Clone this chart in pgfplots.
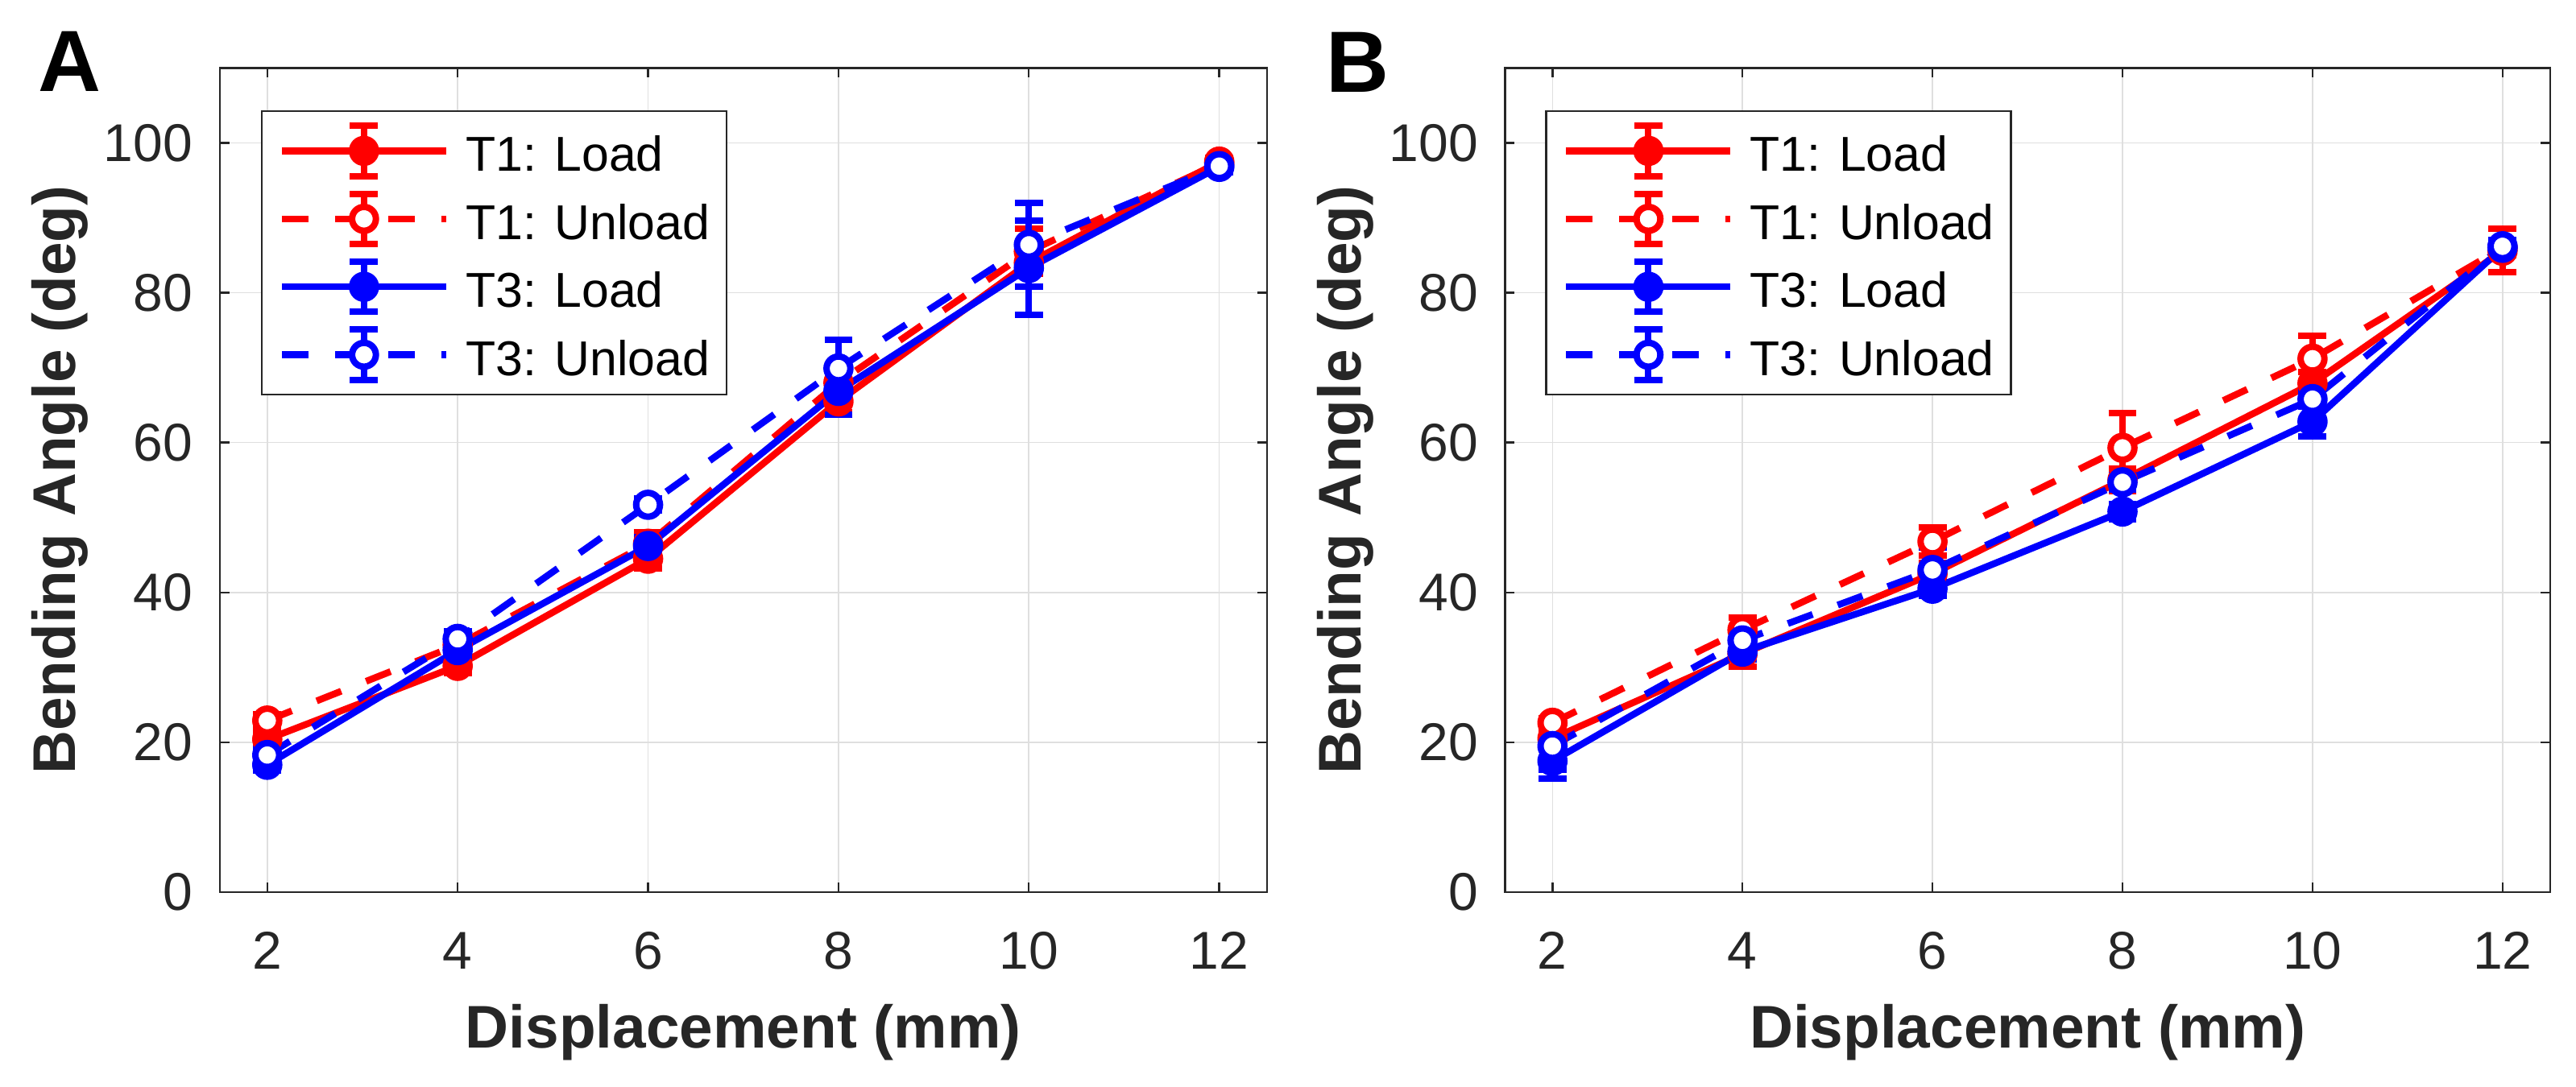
\documentclass[border=0pt]{standalone}
\usepackage{pgfplots}
\pgfplotsset{compat=1.18}
\usepackage{pgfplotstable}
\usepackage{fontspec}
\setmainfont{Liberation Sans}

\definecolor{axgray}{HTML}{262626}
\definecolor{gridgray}{HTML}{DFDFDF}
\definecolor{mred}{HTML}{FF0000}
\definecolor{mblue}{HTML}{0000FF}

% columns: displacement, mean and error for T1 load/unload and T3 load/unload
\pgfplotstableread{
x   t1l   t1le  t1u   t1ue  t3l   t3le  t3u   t3ue
2   20.4  1.0   22.9  0.8   17.0  0.8   18.3  0.8
4   30.2  1.0   33.0  1.0   32.3  1.0   33.8  1.0
6   44.5  1.3   46.5  1.5   46.2  1.2   51.7  0.8
8   65.5  1.5   68.0  1.5   66.9  3.2   69.9  3.8
10  84.0  1.5   85.5  3.0   83.3  6.3   86.4  5.6
12  97.5  0.5   97.3  0.6   96.8  0.5   96.9  0.8
}\tabA

\pgfplotstableread{
x   t1l   t1le  t1u   t1ue  t3l   t3le  t3u   t3ue
2   20.5  1.0   22.6  0.6   17.5  2.3   19.5  3.2
4   31.8  1.7   35.0  1.6   32.1  1.0   33.6  1.0
6   42.5  1.5   46.8  1.9   40.5  1.0   43.0  3.0
8   55.0  1.5   59.3  4.6   50.8  1.0   54.7  1.0
10  67.9  1.5   71.2  3.1   62.8  2.0   65.8  1.0
12  85.6  2.9   86.0  1.0   86.0  0.8   86.2  0.8
}\tabB

\pgfplotsset{
  ebar/.style={
    error bars/y dir=both,
    error bars/y explicit,
    error bars/error bar style={line width=2pt, solid},
    error bars/error mark options={rotate=90, mark size=4.35pt, line width=2pt, solid},
  },
  loadline/.style={#1, line width=2.1pt, solid, mark=*, mark size=3.7pt,
    mark options={solid, fill=#1, line width=2pt}, ebar},
  unloadline/.style={#1, line width=2.1pt, dash pattern=on 8.2pt off 8.3pt,
    mark=*, mark size=3.7pt, mark options={solid, fill=white, line width=2pt}, ebar},
  panel/.style={
    scale only axis, height=255.9pt,
    anchor=south west,
    xmin=1.5, xmax=12.5, ymin=0, ymax=110,
    xtick={2,4,...,12}, ytick={0,20,...,100},
    grid=major, major grid style={gridgray, line width=0.4pt},
    axis line style={axgray, line width=0.6pt},
    tick style={axgray, line width=0.6pt},
    tick align=inside, major tick length=3pt,
    /pgf/number format/assume math mode=true,
    ticklabel style={font=\fontsize{16.5}{19}\selectfont, text=axgray},
    xticklabel style={anchor=north, inner sep=0pt, yshift=-12.2pt},
    yticklabel style={anchor=east, inner sep=0pt, xshift=-8.2pt},
    xlabel={Displacement (mm)},
    ylabel={Bending Angle (deg)},
    xlabel style={at={(axis description cs:0.5,-0.1886)}, anchor=base,
      font=\bfseries\fontsize{18.7}{22}\selectfont, text=axgray},
    ylabel style={at={(axis description cs:-0.1376,0.5)}, anchor=base,
      font=\bfseries\fontsize{18.7}{22}\selectfont, text=axgray},
    legend cell align=left,
    legend style={anchor=north west, draw=axgray, line width=0.6pt, fill=white,
      font=\fontsize{15.2}{18}\selectfont,
      inner xsep=5.2pt, inner ysep=3.6pt, row sep=3.5pt, column sep=5pt,
      nodes={inner xsep=0pt, inner ysep=0pt, text height=11pt, text depth=1pt}},
    legend image code/.code={
      \draw[##1, mark=none] (0pt,1.4pt) -- (51pt,1.4pt);
      \draw[##1, solid, mark=none, line width=2pt]
        (25.5pt,-6.4pt) -- (25.5pt,9.2pt)
        (21.15pt,-6.4pt) -- (29.85pt,-6.4pt)
        (21.15pt,9.2pt) -- (29.85pt,9.2pt);
      \draw[##1] plot coordinates {(25.5pt,1.4pt)};
    },
  },
}

\begin{document}
\begin{tikzpicture}
\path[use as bounding box] (0,0) rectangle (799.5pt,337.25pt);

\begin{axis}[panel, at={(68.18pt,60.25pt)}, width=325pt,
  legend style={at={(0.0392,0.949)}}]
  \addplot[loadline=mred]   table[x=x, y=t1l, y error=t1le] {\tabA};
  \addplot[unloadline=mred] table[x=x, y=t1u, y error=t1ue] {\tabA};
  \addplot[loadline=mblue]  table[x=x, y=t3l, y error=t3le] {\tabA};
  \addplot[unloadline=mblue] table[x=x, y=t3u, y error=t3ue] {\tabA};
  \legend{T1: Load, T1: Unload, T3: Load, T3: Unload}
\end{axis}

\begin{axis}[panel, at={(467.08pt,60.25pt)}, width=324.35pt,
  legend style={at={(0.0385,0.949)}}]
  \addplot[loadline=mred]   table[x=x, y=t1l, y error=t1le] {\tabB};
  \addplot[unloadline=mred] table[x=x, y=t1u, y error=t1ue] {\tabB};
  \addplot[loadline=mblue]  table[x=x, y=t3l, y error=t3le] {\tabB};
  \addplot[unloadline=mblue] table[x=x, y=t3u, y error=t3ue] {\tabB};
  \legend{T1: Load, T1: Unload, T3: Load, T3: Unload}
\end{axis}

\node[font=\bfseries\fontsize{27}{30}\selectfont, inner sep=0pt] at (21.7pt,318.25pt) {A};
\node[font=\bfseries\fontsize{27}{30}\selectfont, inner sep=0pt] at (421.25pt,318pt) {B};
\end{tikzpicture}
\end{document}
